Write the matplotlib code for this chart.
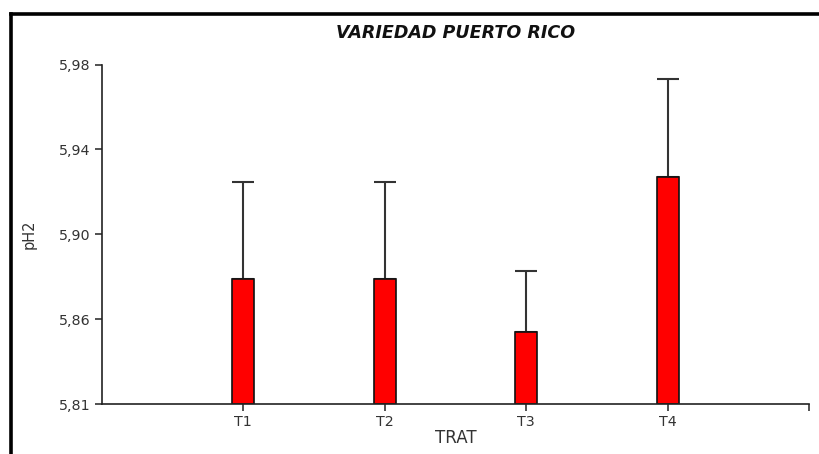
import matplotlib
matplotlib.use("Agg")
import matplotlib.pyplot as plt
from matplotlib.lines import Line2D

plt.rcParams['font.family'] = ['DejaVu Sans']

categories = ['T1', 'T2', 'T3', 'T4']
means = [5.8789, 5.8789, 5.8541, 5.9271]
errors = [0.0459, 0.0459, 0.0286, 0.0461]
ytick_vals = [5.82, 5.86, 5.90, 5.94, 5.98]
ytick_labels = ['5,81', '5,86', '5,90', '5,94', '5,98']
title = 'VARIEDAD PUERTO RICO'

fig = plt.figure(figsize=(8.2, 4.54), dpi=100)
ax = fig.add_axes([102/820, 50/454, (809-102)/820, (404-64.5)/454])

x = list(range(1, len(categories) + 1))
ybase = ytick_vals[0]
heights = [m - ybase for m in means]
ax.bar(x, heights, bottom=ybase, width=0.155, color='#ff0000',
       edgecolor='#111111', linewidth=1.2, zorder=2)
ax.errorbar(x, means, yerr=[[0]*len(errors), errors], fmt='none',
            ecolor='#333333', elinewidth=1.5, capsize=8, capthick=1.5, zorder=1)

ax.set_xlim(0, 5)
ax.set_ylim(ytick_vals[0], ytick_vals[-1])
ax.set_xticks(x + [5])
ax.set_xticklabels(categories + [''])
ax.set_yticks(ytick_vals)
ax.set_yticklabels(ytick_labels)
for s in ['top', 'right']:
    ax.spines[s].set_visible(False)
for s in ['left', 'bottom']:
    ax.spines[s].set_color('#222222')
    ax.spines[s].set_linewidth(1.2)
ax.tick_params(axis='both', direction='out', length=5, width=1.1,
               color='#222222', labelsize=10.3, labelcolor='#333333', pad=3)

ax.set_xlabel('TRAT', fontsize=12, color='#333333', labelpad=0)
ax.set_ylabel('pH2', fontsize=10.5, color='#333333', labelpad=16)
fig.text(456/820, 1 - 33/454, title, ha='center', va='center',
         fontsize=12.6, fontweight='bold', fontstyle='italic', color='#111111')

# figure frame (left and top)
fig.add_artist(Line2D([11/820, 11/820], [0, 1 - 14/454], transform=fig.transFigure,
                      color='black', linewidth=2.6, solid_capstyle='projecting'))
fig.add_artist(Line2D([11/820, 1], [1 - 14/454, 1 - 14/454], transform=fig.transFigure,
                      color='black', linewidth=2.6, solid_capstyle='projecting'))

fig.savefig('out.png', dpi=100)
